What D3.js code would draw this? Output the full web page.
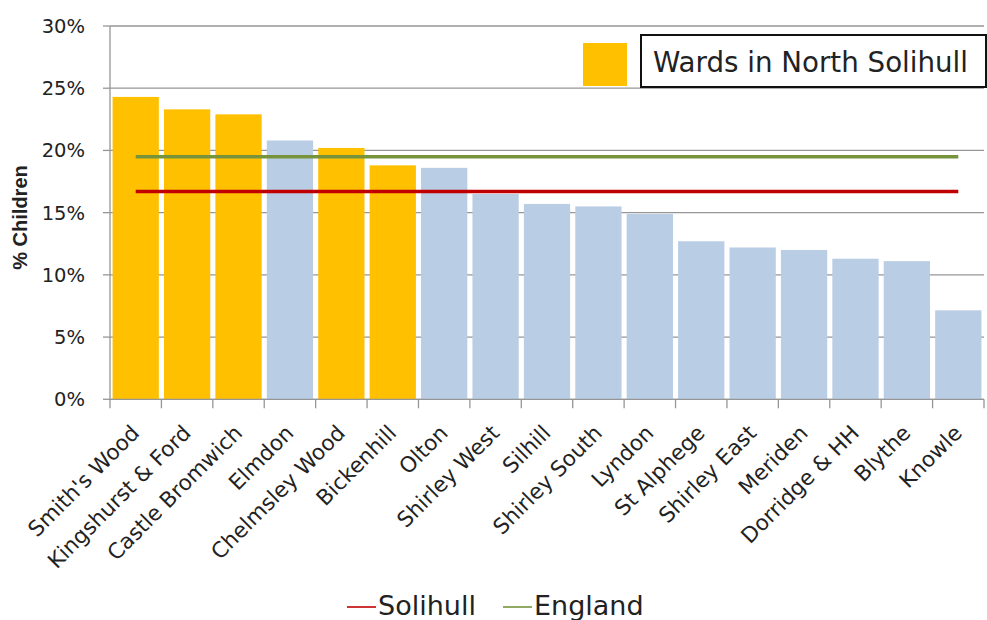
<!DOCTYPE html>
<html>
<head>
<meta charset="utf-8">
<script src="https://cdn.jsdelivr.net/npm/d3@7/dist/d3.min.js"></script>
<style>
  html, body { margin: 0; padding: 0; background: #fff; }
  svg { display: block; }
  text { font-family: "DejaVu Sans", sans-serif; fill: #222; }
</style>
</head>
<body>
<svg id="chart" width="987" height="620"></svg>
<script>
// Percentage of children by ward
const wards = [
  "Smith's Wood", "Kingshurst & Ford", "Castle Bromwich", "Elmdon",
  "Chelmsley Wood", "Bickenhill", "Olton", "Shirley West", "Silhill",
  "Shirley South", "Lyndon", "St Alphege", "Shirley East", "Meriden",
  "Dorridge & HH", "Blythe", "Knowle"
];
const pctChildren = [
  24.3, 23.3, 22.9, 20.8, 20.2, 18.8, 18.6, 16.5, 15.7,
  15.5, 14.9, 12.7, 12.2, 12.0, 11.3, 11.1, 7.15
];
const northWards = [
  "Smith's Wood", "Kingshurst & Ford", "Castle Bromwich",
  "Chelmsley Wood", "Bickenhill"
];
const solihullAvg = 16.7;
const englandAvg = 19.5;
const yTicks = [0, 5, 10, 15, 20, 25, 30];

const colors = {
  north: "#FFC000",
  other: "#B9CDE5",
  solihull: "#C00000",
  england: "#77933C",
  grid: "#969696"
};

const svg = d3.select("#chart");
const plot = { left: 110, right: 984, top: 26, bottom: 399.3 };

const x = d3.scaleBand()
  .domain(wards)
  .range([plot.left, plot.right])
  .paddingInner(0.1)
  .paddingOuter(0.05);

const y = d3.scaleLinear()
  .domain([0, 30])
  .range([plot.bottom, plot.top]);

const step = x.step();
const gap = step * 0.1;

// Horizontal gridlines
svg.append("g")
  .selectAll("line")
  .data(yTicks)
  .join("line")
  .attr("x1", plot.left)
  .attr("x2", plot.right)
  .attr("y1", d => y(d))
  .attr("y2", d => y(d))
  .attr("stroke", colors.grid)
  .attr("stroke-width", 1.3);

// Bars
svg.append("g")
  .selectAll("rect")
  .data(wards)
  .join("rect")
  .attr("x", d => x(d))
  .attr("width", x.bandwidth())
  .attr("y", (d, i) => y(pctChildren[i]))
  .attr("height", (d, i) => y(0) - y(pctChildren[i]))
  .attr("fill", d => northWards.includes(d) ? colors.north : colors.other);

// Y axis line and ticks
const yAxis = svg.append("g");
yAxis.append("line")
  .attr("x1", plot.left).attr("x2", plot.left)
  .attr("y1", plot.top).attr("y2", plot.bottom)
  .attr("stroke", colors.grid).attr("stroke-width", 1.3);
yAxis.selectAll("line.tick")
  .data(yTicks)
  .join("line")
  .attr("class", "tick")
  .attr("x1", plot.left - 7).attr("x2", plot.left)
  .attr("y1", d => y(d)).attr("y2", d => y(d))
  .attr("stroke", colors.grid).attr("stroke-width", 1.3);
yAxis.selectAll("text")
  .data(yTicks)
  .join("text")
  .attr("x", 85)
  .attr("y", d => y(d))
  .attr("dy", "0.36em")
  .attr("text-anchor", "end")
  .style("font-size", "19.5px")
  .text(d => d + "%");

// X axis line and category boundary ticks
const xAxis = svg.append("g");
xAxis.append("line")
  .attr("x1", plot.left).attr("x2", plot.right)
  .attr("y1", plot.bottom).attr("y2", plot.bottom)
  .attr("stroke", colors.grid).attr("stroke-width", 1.3);
const boundaries = wards.map(d => x(d) - gap / 2).concat([x(wards[wards.length - 1]) + x.bandwidth() + gap / 2]);
xAxis.selectAll("line.tick")
  .data(boundaries)
  .join("line")
  .attr("class", "tick")
  .attr("x1", d => d).attr("x2", d => d)
  .attr("y1", plot.bottom).attr("y2", plot.bottom + 9)
  .attr("stroke", colors.grid).attr("stroke-width", 1.3);
xAxis.selectAll("text")
  .data(wards)
  .join("text")
  .attr("text-anchor", "end")
  .attr("transform", d => `translate(${x(d) + x.bandwidth() / 2 + 5},${plot.bottom + 35}) rotate(-45)`)
  .style("font-size", "21.5px")
  .text(d => d);

// Reference average lines
const lineX1 = x(wards[0]) + x.bandwidth() / 2;
const lineX2 = x(wards[wards.length - 1]) + x.bandwidth() / 2;
[[englandAvg, colors.england], [solihullAvg, colors.solihull]].forEach(([v, c]) => {
  svg.append("line")
    .attr("x1", lineX1).attr("x2", lineX2)
    .attr("y1", y(v)).attr("y2", y(v))
    .attr("stroke", c)
    .attr("stroke-width", 3.5);
});

// Y axis title
svg.append("text")
  .attr("transform", `translate(27,${(163 + 272) / 2}) rotate(-90)`)
  .attr("text-anchor", "middle")
  .style("font-family", "'Liberation Sans', Arial, sans-serif")
  .style("font-weight", "bold")
  .style("font-size", "20px")
  .text("% Children");

// Legend for North Solihull wards
const legend = svg.append("g");
legend.append("rect")
  .attr("x", 583).attr("y", 43)
  .attr("width", 44).attr("height", 43)
  .attr("fill", colors.north);
legend.append("rect")
  .attr("x", 641).attr("y", 35)
  .attr("width", 345).attr("height", 52)
  .attr("fill", "#fff")
  .attr("stroke", "#111")
  .attr("stroke-width", 2);
legend.append("text")
  .attr("x", 653).attr("y", 71.5)
  .style("font-size", "27.7px")
  .text("Wards in North Solihull");

// Legend for average lines
const bottomLegend = svg.append("g");
const items = [
  { label: "Solihull", color: colors.solihull, x: 347 },
  { label: "England", color: colors.england, x: 503 }
];
items.forEach(it => {
  bottomLegend.append("line")
    .attr("x1", it.x).attr("x2", it.x + 29)
    .attr("y1", 607).attr("y2", 607)
    .attr("stroke", it.color)
    .attr("stroke-width", 1.6);
  bottomLegend.append("text")
    .attr("x", it.x + 31).attr("y", 615)
    .style("font-size", "27px")
    .text(it.label);
});
</script>
</body>
</html>
